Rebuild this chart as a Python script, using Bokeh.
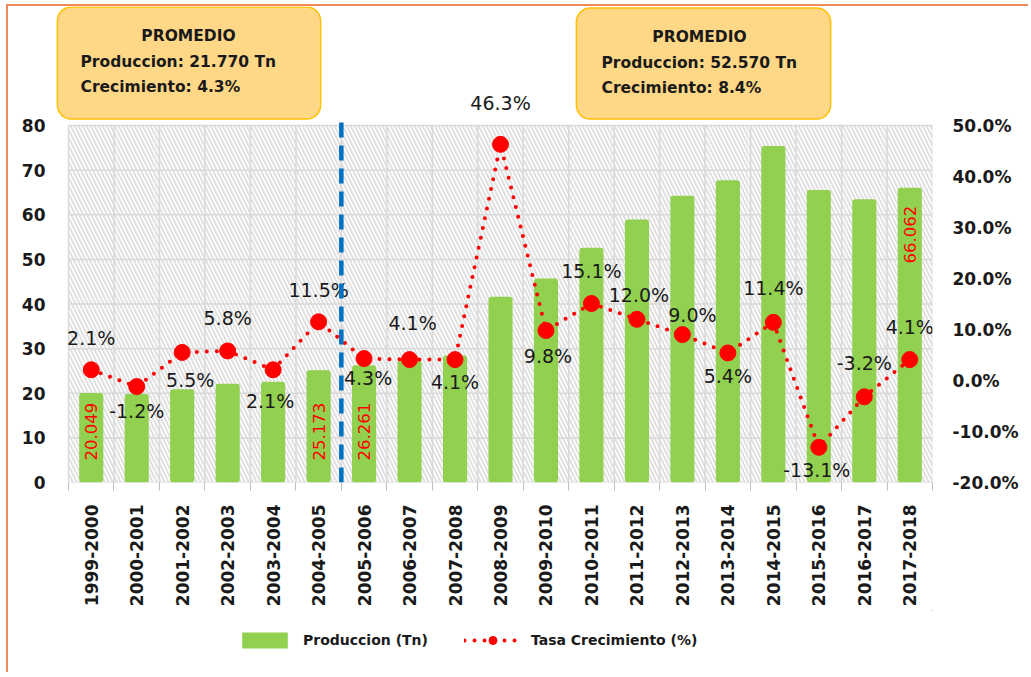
import numpy as np
from bokeh.plotting import figure
from bokeh.layouts import column
from bokeh.models import (ColumnDataSource, Range1d, LinearAxis, FixedTicker,
                          PrintfTickFormatter, BoxAnnotation, Label, Legend, LegendItem, Arrow)
from bokeh.core.properties import value
from bokeh.embed import file_html
from bokeh.resources import INLINE

# ---------------- data ----------------
categories = ["1999-2000", "2000-2001", "2001-2002", "2002-2003", "2003-2004", "2004-2005",
              "2005-2006", "2006-2007", "2007-2008", "2008-2009", "2009-2010", "2010-2011",
              "2011-2012", "2012-2013", "2013-2014", "2014-2015", "2015-2016", "2016-2017",
              "2017-2018"]
produccion = [20.049, 19.81, 20.90, 22.11, 22.57, 25.173, 26.261, 27.34, 28.46, 41.64,
              45.72, 52.62, 58.93, 64.24, 67.71, 75.43, 65.55, 63.45, 66.062]
crecimiento = [2.1, -1.2, 5.5, 5.8, 2.1, 11.5, 4.3, 4.1, 4.1, 46.3,
               9.8, 15.1, 12.0, 9.0, 5.4, 11.4, -13.1, -3.2, 4.1]
left_ticks = [0, 10, 20, 30, 40, 50, 60, 70, 80]
right_ticks = [-20, -10, 0, 10, 20, 30, 40, 50]
labeled_bars_base = [0, 5, 6]      # bar value labels at the bar base
labeled_bars_end = [18]            # bar value labels at the bar end
box_left = ["PROMEDIO", "Produccion: 21.770 Tn", "Crecimiento: 4.3%"]
box_right = ["PROMEDIO", "Produccion: 52.570 Tn", "Crecimiento: 8.4%"]
split_after = 5                    # dashed separator between 2004-2005 and 2005-2006
legend_labels = ["Produccion (Tn)", "Tasa Crecimiento (%)"]

# ---------------- layout / style ----------------
pct_dx = [0, 0, 8, 0, -3, 0, 4, 3, 0, 0, 2, 0, 2, 10, 0, 0, -2, 0, 0]
pct_dy = [-32, 24, 28, -33, 31, -32, 19, -37, 22, -41, 25, -32, -24, -20, 23, -34, 23, -34, -33]

FONT = "DejaVu Sans"
OX, OY = 8, 6                        # page position of the chart area (inside the orange border)
PAGE_W = 1028
PLOT_L, PLOT_R, PLOT_T, PLOT_B = 68, 932, 125, 482   # hatched plot area (page px)
FRAME_L, FRAME_T = 50, OY                             # frame (page px)
MAIN_BOTTOM, LEG_BOTTOM = 610, 672
W = PAGE_W - OX
H_MAIN = MAIN_BOTTOM - OY
H_LEG = LEG_BOTTOM - MAIN_BOTTOM
GRID = "#D9D9D9"
BAR_COLOR, LINE_COLOR = "#92D050", "#FF0000"
n = len(categories)
xs = list(range(n))
bounds = [i - 0.5 for i in range(n + 1)]
px_per_cat = (PLOT_R - PLOT_L) / n
lmin, lmax = left_ticks[0], left_ticks[-1]
rmin, rmax = right_ticks[0], right_ticks[-1]
frac_top = (PLOT_B - FRAME_T) / (PLOT_B - PLOT_T)

src = ColumnDataSource(dict(
    x=xs, prod=produccion, pct=crecimiento,
    lbl=[f"{v:.1f}%" for v in crecimiento], dx=pct_dx, dy=pct_dy))
src_base = ColumnDataSource(dict(
    x=[xs[i] for i in labeled_bars_base], y=[0] * len(labeled_bars_base),
    t=[f"{produccion[i]:.3f}" for i in labeled_bars_base]))
src_end = ColumnDataSource(dict(
    x=[xs[i] for i in labeled_bars_end], y=[produccion[i] for i in labeled_bars_end],
    t=[f"{produccion[i]:.3f}" for i in labeled_bars_end]))

p = figure(width=W, height=H_MAIN,
           x_range=Range1d(-0.5 - (PLOT_L - FRAME_L) / px_per_cat, n - 0.5),
           y_range=Range1d(lmin, lmin + (lmax - lmin) * frac_top),
           output_backend="svg", toolbar_location=None,
           min_border_left=FRAME_L - OX, min_border_right=PAGE_W - PLOT_R, min_border_top=0,
           min_border_bottom=MAIN_BOTTOM - PLOT_B)
p.outline_line_color = None
p.background_fill_color = "white"
p.extra_y_ranges = {"pct": Range1d(rmin, rmin + (rmax - rmin) * frac_top)}
p.grid.visible = False

# hatch background of plot area
p.add_layout(BoxAnnotation(left=-0.5, right=n - 0.5, bottom=lmin, top=lmax,
                           fill_alpha=0, line_alpha=0, hatch_pattern="\\", hatch_color="#E0E0E0",
                           hatch_scale=8, hatch_weight=2, level="image"))
# grid lines (bounded to the plot area)
p.segment(x0=bounds, y0=[lmin] * len(bounds), x1=bounds, y1=[lmax] * len(bounds),
          line_color=GRID, line_width=1.5, level="underlay")
p.segment(x0=[-0.5] * len(left_ticks), y0=left_ticks, x1=[n - 0.5] * len(left_ticks),
          y1=left_ticks, line_color=GRID, line_width=1.5, level="underlay")

# x axis
xt = FixedTicker(ticks=xs, minor_ticks=bounds)
p.xaxis.ticker = xt
p.xaxis.major_label_overrides = {i: c for i, c in zip(xs, categories)}
p.xaxis.major_label_orientation = np.pi / 2
p.xaxis.major_tick_line_color = None
p.xaxis.major_tick_out = 0
p.xaxis.minor_tick_line_color = "#BFBFBF"
p.xaxis.minor_tick_out = 8
p.xaxis.minor_tick_in = 0
p.xaxis.axis_line_color = None
p.xaxis.major_label_standoff = 14
p.xaxis.major_label_text_font = FONT
p.xaxis.major_label_text_font_style = "bold"
p.xaxis.major_label_text_font_size = "17px"
p.xaxis.major_label_text_color = "#1a1a1a"

# left axis
p.yaxis.ticker = FixedTicker(ticks=left_ticks)
p.yaxis.axis_line_color = None
p.yaxis.major_tick_line_color = None
p.yaxis.minor_tick_line_color = None
p.yaxis.major_tick_out = 0
p.yaxis.major_label_standoff = 5
p.yaxis.major_label_text_font = FONT
p.yaxis.major_label_text_font_style = "bold"
p.yaxis.major_label_text_font_size = "17px"
p.yaxis.major_label_text_color = "#1a1a1a"

# right axis
ax2 = LinearAxis(y_range_name="pct", ticker=FixedTicker(ticks=right_ticks),
                 formatter=PrintfTickFormatter(format="%.1f%%"))
ax2.axis_line_color = None
ax2.major_tick_line_color = None
ax2.minor_tick_line_color = None
ax2.major_tick_out = 0
ax2.major_label_standoff = 20
ax2.major_label_text_font = FONT
ax2.major_label_text_font_style = "bold"
ax2.major_label_text_font_size = "17px"
ax2.major_label_text_color = "#1a1a1a"
p.add_layout(ax2, "right")

# bars
p.vbar(x="x", top="prod", width=0.53, source=src, fill_color=BAR_COLOR,
       line_color=None, border_radius=3)

# growth line
p.line("x", "pct", source=src, y_range_name="pct", line_color=LINE_COLOR, line_width=4,
       line_dash="0 10", line_cap="round")
p.scatter("x", "pct", source=src, y_range_name="pct", size=16, fill_color=LINE_COLOR,
          line_color=LINE_COLOR)

p.text(x="x", y="pct", text="lbl", x_offset="dx", y_offset="dy", source=src, y_range_name="pct",
       text_align="center", text_baseline="middle", text_font=value(FONT),
       text_font_size="19px", text_color="#1a1a1a")

# bar value labels
p.text(x="x", y="y", text="t", source=src_base, angle=np.pi / 2, y_offset=-22,
       text_align="left", text_baseline="middle", text_font=value(FONT),
       text_font_size="16.5px", text_color="#FF0000")
p.text(x="x", y="y", text="t", source=src_end, angle=np.pi / 2, y_offset=18,
       text_align="right", text_baseline="middle", text_font=value(FONT),
       text_font_size="16.5px", text_color="#FF0000")

# separator
p.add_layout(Arrow(start=None, end=None, x_start=split_after + 0.5, y_start=lmax + 0.7,
                   x_end=split_after + 0.5, y_end=lmin - 5, line_color="#0070C0",
                   line_width=4.5, line_dash="15 8"))

# average boxes (positions in px relative to frame bottom-left)
def add_box(cx, cy, w, h, lines, title_x, text_x):
    p.add_layout(Label(x=cx, y=cy, x_units="screen", y_units="screen", text=" ",
                       text_font_size="1px", text_align="center", text_baseline="middle",
                       background_fill_color="#FFD887", border_line_color="#FFC000",
                       border_line_width=1.5,
                       padding=(w // 2, w - w // 2, h // 2, h - h // 2),
                       border_radius=14))
    ys = [cy + 27, cy + 1, cy - 24]
    p.add_layout(Label(x=title_x, y=ys[0], x_units="screen", y_units="screen", text=lines[0],
                       text_align="center", text_baseline="middle", text_font=FONT,
                       text_font_style="bold", text_font_size="15.5px", text_color="#1a1a1a"))
    for t, yy in zip(lines[1:], ys[1:]):
        p.add_layout(Label(x=text_x, y=yy, x_units="screen", y_units="screen", text=t,
                           text_align="left", text_baseline="middle", text_font=FONT,
                           text_font_style="bold", text_font_size="15.5px",
                           text_color="#1a1a1a"))

add_box(188.5 - FRAME_L, PLOT_B - 62.5, 263, 111, box_left, 188 - FRAME_L, 80 - FRAME_L)
add_box(703 - FRAME_L, PLOT_B - 63, 254, 110, box_right, 699 - FRAME_L, 601 - FRAME_L)

# legend strip (small figure below the chart; its renderers reuse the data, out of view)
pl = figure(width=W, height=H_LEG, x_range=Range1d(-100, -99), y_range=Range1d(-100, -99),
            output_backend="svg", toolbar_location=None, min_border=0,
            x_axis_location=None, y_axis_location=None)
pl.outline_line_color = None
pl.grid.visible = False
lb = pl.vbar(x="x", top="prod", width=0.53, source=src, fill_color=BAR_COLOR, line_color=None)
ll = pl.line("x", "pct", source=src, line_color=LINE_COLOR, line_width=4, line_dash="0 10",
             line_cap="round")
ls = pl.scatter("x", "pct", source=src, size=16, fill_color=LINE_COLOR, line_color=LINE_COLOR)
legend = Legend(items=[LegendItem(label=legend_labels[0], renderers=[lb]),
                       LegendItem(label=legend_labels[1], renderers=[ll, ls])],
                location=(236 - FRAME_L, LEG_BOTTOM - 650), orientation="horizontal",
                padding=0, margin=0, spacing=36, label_standoff=10, glyph_width=57,
                glyph_height=20, label_text_font=FONT, label_text_font_style="bold",
                label_text_font_size="14px", label_text_color="#1a1a1a",
                background_fill_alpha=0, border_line_color=None)
pl.add_layout(legend)

layout = column(p, pl, spacing=0, margin=(OY - 2, 0, 0, OX - 2),
                styles={"border-top": "2px solid #F08A5B", "border-left": "2px solid #F08A5B"})
open("out.html", "w").write(file_html(layout, INLINE))
